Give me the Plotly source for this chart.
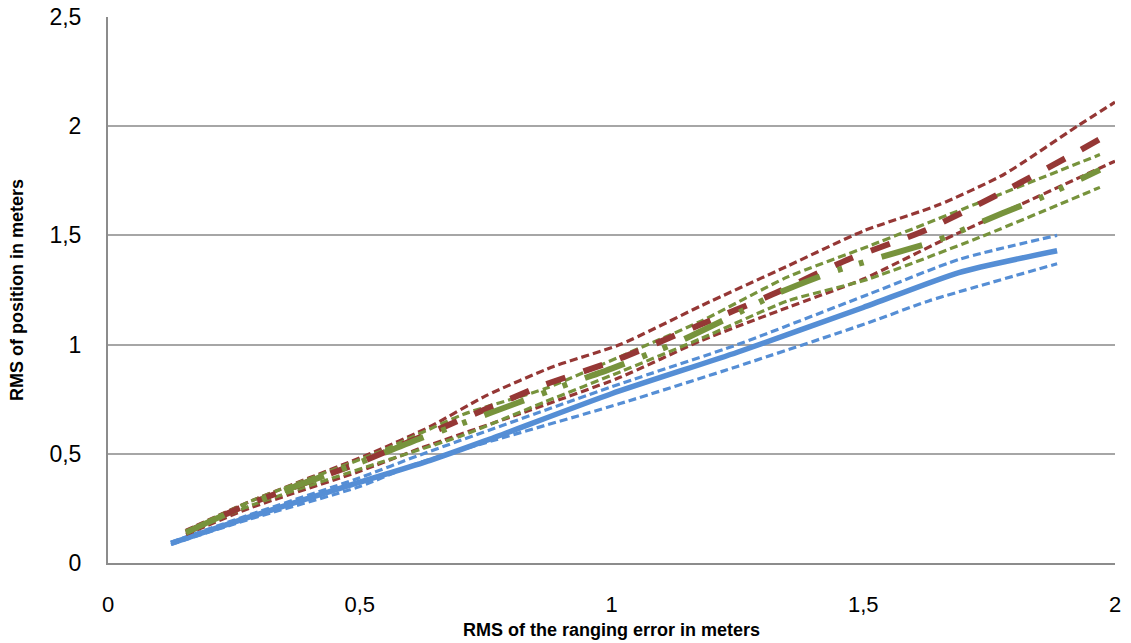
import plotly.graph_objects as go

# ---------------- data ----------------
blue_x = [0.125, 0.28, 0.5, 0.64, 0.75, 1.0, 1.25, 1.5, 1.69, 1.885]
blue_mean = [0.09, 0.21, 0.37, 0.47, 0.56, 0.775, 0.965, 1.17, 1.33, 1.43]
blue_up_x = [0.125, 0.28, 0.5, 0.62, 1.017, 1.25, 1.51, 1.69, 1.885]
blue_up = [0.095, 0.22, 0.39, 0.495, 0.82, 1.0, 1.23, 1.39, 1.50]
blue_lo_x = [0.125, 0.28, 0.5, 0.62, 1.017, 1.25, 1.51, 1.63, 1.885]
blue_lo = [0.085, 0.20, 0.35, 0.46, 0.73, 0.90, 1.10, 1.20, 1.37]

red_x = [0.155, 0.28, 0.5, 0.71, 0.86, 1.01, 1.17, 1.32, 1.47, 1.625, 1.77, 1.915, 2.0]
red_mean = [0.14, 0.27, 0.46, 0.665, 0.81, 0.93, 1.085, 1.23, 1.39, 1.525, 1.69, 1.87, 1.98]
red_up_x = [0.155, 0.28, 0.52, 0.64, 0.75, 0.885, 1.017, 1.18, 1.35, 1.5, 1.65, 1.78, 1.925, 2.0]
red_up = [0.15, 0.28, 0.50, 0.625, 0.765, 0.9, 1.0, 1.18, 1.36, 1.52, 1.64, 1.78, 2.0, 2.11]
red_lo_x = [0.155, 0.28, 0.5, 0.62, 0.82, 1.017, 1.18, 1.35, 1.5, 1.66, 1.83, 2.0]
red_lo = [0.13, 0.25, 0.42, 0.525, 0.685, 0.85, 1.02, 1.17, 1.30, 1.48, 1.66, 1.84]

green_x = [0.155, 0.28, 0.5, 0.62, 0.71, 0.815, 0.92, 1.0, 1.13, 1.23, 1.33, 1.435, 1.52,
           1.65, 1.775, 1.855, 1.97]
green_mean = [0.14, 0.27, 0.46, 0.57, 0.645, 0.735, 0.825, 0.89, 1.01, 1.12, 1.235, 1.33, 1.39,
              1.48, 1.60, 1.675, 1.80]
green_up_x = [0.155, 0.28, 0.54, 0.705, 0.87, 1.017, 1.18, 1.35, 1.51, 1.73, 1.97]
green_up = [0.145, 0.28, 0.51, 0.68, 0.80, 0.945, 1.11, 1.31, 1.45, 1.65, 1.87]
green_lo_x = [0.155, 0.28, 0.54, 0.705, 0.87, 1.017, 1.18, 1.35, 1.51, 1.73, 1.97]
green_lo = [0.135, 0.26, 0.46, 0.585, 0.74, 0.875, 1.03, 1.20, 1.30, 1.49, 1.72]

x_ticks = [0, 0.5, 1, 1.5, 2]
x_tick_labels = ["0", "0,5", "1", "1,5", "2"]
y_ticks = [0, 0.5, 1, 1.5, 2, 2.5]
y_tick_labels = ["0", "0,5", "1", "1,5", "2", "2,5"]

BLUE = "#558ED5"
RED = "#953735"
GREEN = "#77933C"

fig = go.Figure()

def add(x, y, color, width, dash):
    fig.add_trace(go.Scatter(x=x, y=y, mode="lines", showlegend=False, hoverinfo="skip",
                             line=dict(color=color, width=width, dash=dash,
                                       shape="spline", smoothing=0.6)))

add(blue_x, blue_mean, BLUE, 5.5, "solid")
add(blue_up_x, blue_up, BLUE, 3.2, "8px,4px")
add(blue_lo_x, blue_lo, BLUE, 3.2, "8px,4px")
add(red_up_x, red_up, RED, 3.2, "8px,4px")
add(red_lo_x, red_lo, RED, 3.2, "8px,4px")
add(green_up_x, green_up, GREEN, 3.2, "8px,4px")
add(green_lo_x, green_lo, GREEN, 3.2, "8px,4px")
add(red_x, red_mean, RED, 6, "20px,19px")
add(green_x, green_mean, GREEN, 6, "42px,19px,5px,17px,5px,19px")

font = "Liberation Sans, Arial, sans-serif"

fig.update_layout(
    width=1131, height=643,
    margin=dict(l=108, r=16, t=17, b=80, autoexpand=False),
    paper_bgcolor="white", plot_bgcolor="white",
    font=dict(family=font, color="black"),
    xaxis=dict(range=[0, 2], tickvals=x_ticks, ticktext=x_tick_labels, automargin=False,
               showgrid=False, zeroline=False, showline=True, linecolor="#8c8c8c",
               linewidth=2, ticks="", tickfont=dict(size=22), ticklabelstandoff=21),
    yaxis=dict(range=[0, 2.5], tickvals=y_ticks, ticktext=y_tick_labels, automargin=False,
               showgrid=True, gridcolor="#a6a6a6", gridwidth=1.5, zeroline=False,
               showline=True, linecolor="#8c8c8c", linewidth=2, ticks="",
               tickfont=dict(size=23), ticklabelstandoff=20),
    annotations=[
        dict(text="<b>RMS of the ranging error in meters</b>", xref="paper", yref="paper",
             x=0.5, y=-0.122, xanchor="center", yanchor="middle", showarrow=False,
             font=dict(size=18, family=font)),
        dict(text="<b>RMS of position in meters</b>", xref="paper", yref="paper",
             x=-0.0904, y=0.5, xanchor="center", yanchor="middle", showarrow=False,
             textangle=-90, font=dict(size=18, family=font)),
    ],
)

fig.write_html("out.html")
